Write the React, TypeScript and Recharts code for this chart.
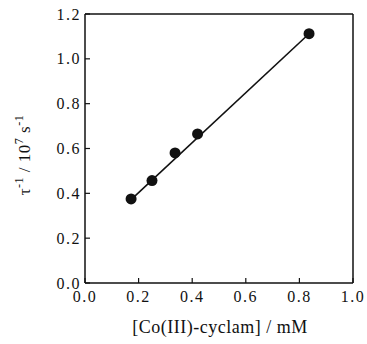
import { ComposedChart, Line, ReferenceLine, Scatter, XAxis, YAxis } from "recharts";

const conc = [0.172, 0.25, 0.336, 0.42, 0.836];
const rate = [0.375, 0.457, 0.58, 0.665, 1.112];

// linear fit drawn through the points
const fitConc = [0.172, 0.836];
const fitRate = [0.372, 1.112];

const xTicks = [0, 0.2, 0.4, 0.6, 0.8, 1.0];
const yTicks = [0, 0.2, 0.4, 0.6, 0.8, 1.0, 1.2];

const points = conc.map((x, i) => ({ x, y: rate[i] }));
const fit = fitConc.map((x, i) => ({ x, y: fitRate[i] }));

const font = "'Liberation Serif', 'Times New Roman', serif";
const ink = "#111";

function XTick({ x, y, payload }: any) {
  return (
    <text x={x} y={y + 24} textAnchor="middle" fill={ink} fontFamily={font} fontSize={16} letterSpacing={1.5}>
      {payload.value.toFixed(1)}
    </text>
  );
}

function YTick({ x, y, payload }: any) {
  return (
    <text x={x - 9} y={y + 5.5} textAnchor="end" fill={ink} fontFamily={font} fontSize={16} letterSpacing={1.5}>
      {payload.value.toFixed(1)}
    </text>
  );
}

function YLabel() {
  return (
    <text
      x={30}
      y={155}
      transform="rotate(-90 30 155)"
      textAnchor="middle"
      fill={ink}
      fontFamily={font}
      fontSize={17}
      letterSpacing={0.5}
    >
      τ<tspan dy={-7} fontSize={12}>-1</tspan>
      <tspan dy={7}> / 10</tspan>
      <tspan dy={-7} fontSize={12}>7</tspan>
      <tspan dy={7}> s</tspan>
      <tspan dy={-7} fontSize={12}>-1</tspan>
    </text>
  );
}

function XLabel() {
  return (
    <text x={220} y={333} textAnchor="middle" fill={ink} fontFamily={font} fontSize={18} letterSpacing={0.5}>
      [Co(III)-cyclam] / mM
    </text>
  );
}

export default function App() {
  return (
    <div style={{ position: "absolute", left: 0, top: 0, background: "#fff" }}>
      <ComposedChart width={367} height={344} margin={{ top: 14, right: 14, bottom: 0, left: 0 }}>
        <XAxis
          xAxisId="b"
          dataKey="x"
          type="number"
          domain={[0, 1]}
          ticks={xTicks}
          height={61}
          axisLine={{ stroke: ink, strokeWidth: 1.5 }}
          tickLine={{ stroke: ink, strokeWidth: 1.2 }}
          tickSize={-5}
          tickMargin={0}
          tick={<XTick />}
          label={<XLabel />}
        />
        <YAxis
          yAxisId="l"
          type="number"
          domain={[0, 1.2]}
          ticks={yTicks}
          width={85}
          axisLine={{ stroke: ink, strokeWidth: 1.5 }}
          tickLine={{ stroke: ink, strokeWidth: 1.2 }}
          tickSize={-5}
          tickMargin={0}
          tick={<YTick />}
          label={<YLabel />}
        />
        {/* frame: top and right borders */}
        <ReferenceLine xAxisId="b" yAxisId="l" y={1.2} stroke={ink} strokeWidth={1.5} />
        <ReferenceLine xAxisId="b" yAxisId="l" x={1} stroke={ink} strokeWidth={1.5} />
        <Line
          xAxisId="b"
          yAxisId="l"
          data={fit}
          dataKey="y"
          type="linear"
          stroke={ink}
          strokeWidth={1.6}
          dot={false}
          activeDot={false}
          isAnimationActive={false}
        />
        <Scatter
          xAxisId="b"
          yAxisId="l"
          data={points}
          dataKey="y"
          fill={ink}
          shape={(p: any) => <circle cx={p.cx} cy={p.cy} r={5.5} fill={ink} />}
          isAnimationActive={false}
        />
      </ComposedChart>
    </div>
  );
}
